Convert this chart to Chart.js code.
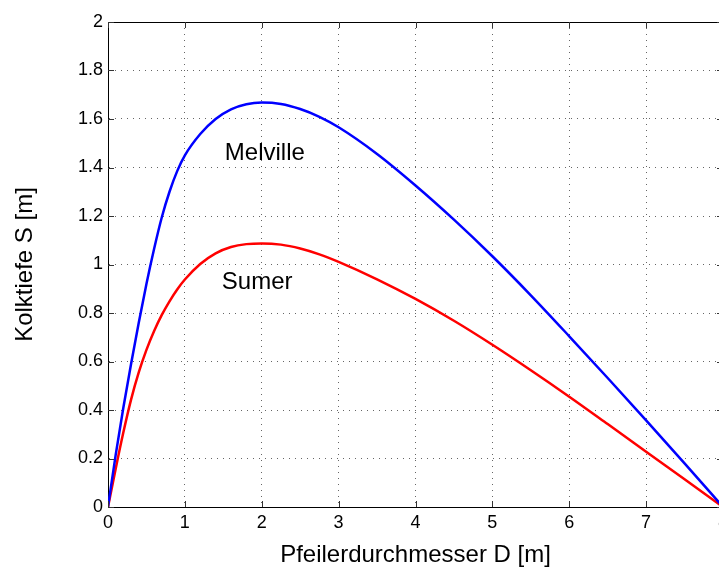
<!DOCTYPE html>
<html lang="de">
<head>
<meta charset="utf-8">
<title>Kolktiefe</title>
<script src="https://cdn.jsdelivr.net/npm/chart.js@4.4.1/dist/chart.umd.min.js"></script>
<style>
  html, body { margin: 0; padding: 0; background: #fff; overflow: hidden; }
  #wrap { width: 740px; height: 567px; }
</style>
</head>
<body>
<div id="wrap"><canvas id="scour" width="740" height="567"></canvas></div>
<script>
// pier diameter D [m] and scour depth S [m] for both formulas
const pierDiameter  = [0, 0.1, 0.2, 0.3, 0.4, 0.5, 0.6, 0.7, 0.8, 0.9, 1.0, 1.2, 1.4, 1.6, 1.8, 2.0,
                       2.25, 2.5, 2.75, 3.0, 3.5, 4.0, 4.5, 5.0, 5.5, 6.0, 6.5, 7.0, 7.5, 8.0];
const melvilleDepth = [0, 0.215, 0.41, 0.59, 0.76, 0.92, 1.065, 1.195, 1.30, 1.385, 1.45, 1.538, 1.60, 1.64, 1.661, 1.668,
                       1.662, 1.641, 1.609, 1.566, 1.456, 1.326, 1.185, 1.034, 0.873, 0.704, 0.532, 0.357, 0.180, 0];
const sumerDepth    = [0, 0.158, 0.308, 0.443, 0.555, 0.648, 0.726, 0.792, 0.848, 0.897, 0.938, 1.002, 1.046, 1.072, 1.084, 1.087,
                       1.082, 1.066, 1.042, 1.011, 0.939, 0.858, 0.768, 0.669, 0.564, 0.455, 0.342, 0.228, 0.114, 0];

const xTicks = [0, 1, 2, 3, 4, 5, 6, 7, 8];
const yTicks = [0, 0.2, 0.4, 0.6, 0.8, 1, 1.2, 1.4, 1.6, 1.8, 2];

const curveLabels = ['Melville', 'Sumer'];
const curveLabelX = [2.04, 1.94];
const curveLabelY = [1.46, 0.925];

const FONT = '"Liberation Sans", Arial, Helvetica, sans-serif';
const gridColor = 'rgba(0,0,0,0.6)';

const toPoints = ys => pierDiameter.map((d, i) => ({ x: d, y: ys[i] }));

// closed box: top/right border plus inward tick marks on every side
const boxFrame = {
  id: 'boxFrame',
  afterDatasetsDraw(chart) {
    const { ctx, chartArea: a, scales: { x, y } } = chart;
    ctx.save();
    ctx.strokeStyle = '#000';
    ctx.lineWidth = 1;
    ctx.beginPath();
    ctx.moveTo(a.left, a.top + 0.5);
    ctx.lineTo(a.right, a.top + 0.5);
    ctx.moveTo(a.right - 0.5, a.top);
    ctx.lineTo(a.right - 0.5, a.bottom);
    ctx.stroke();

    ctx.strokeStyle = '#333';
    ctx.beginPath();
    x.ticks.forEach(t => {
      const px = Math.round(x.getPixelForValue(t.value)) + 0.5;
      ctx.moveTo(px, a.bottom); ctx.lineTo(px, a.bottom - 6);
      ctx.moveTo(px, a.top);    ctx.lineTo(px, a.top + 6);
    });
    y.ticks.forEach(t => {
      const py = Math.round(y.getPixelForValue(t.value)) + 0.5;
      ctx.moveTo(a.left, py);  ctx.lineTo(a.left + 6, py);
      ctx.moveTo(a.right, py); ctx.lineTo(a.right - 6, py);
    });
    ctx.stroke();
    ctx.restore();
  }
};

// curve names written inside the plot, placed in data coordinates
const curveText = {
  id: 'curveText',
  afterDatasetsDraw(chart) {
    const { ctx, scales: { x, y } } = chart;
    ctx.save();
    ctx.fillStyle = '#000';
    ctx.font = '24px ' + FONT;
    ctx.textAlign = 'center';
    ctx.textBaseline = 'middle';
    curveLabels.forEach((txt, i) => {
      ctx.fillText(txt, x.getPixelForValue(curveLabelX[i]), y.getPixelForValue(curveLabelY[i]));
    });
    ctx.restore();
  }
};

const tickFont = { family: FONT, size: 18 };
const titleFont = { family: FONT, size: 24, lineHeight: 1 };

new Chart(document.getElementById('scour'), {
  type: 'line',
  data: {
    datasets: [
      { label: 'Melville', data: toPoints(melvilleDepth), borderColor: '#0000ff', borderWidth: 2.5,
        pointRadius: 0, cubicInterpolationMode: 'monotone', fill: false },
      { label: 'Sumer', data: toPoints(sumerDepth), borderColor: '#ff0000', borderWidth: 2.5,
        pointRadius: 0, cubicInterpolationMode: 'monotone', fill: false }
    ]
  },
  options: {
    responsive: false,
    animation: false,
    devicePixelRatio: 1,
    layout: { padding: { left: 0, top: 22, right: 17, bottom: 0 } },
    plugins: { legend: { display: false }, tooltip: { enabled: false } },
    scales: {
      x: {
        type: 'linear', min: 0, max: 8,
        afterBuildTicks: s => { s.ticks = xTicks.map(v => ({ value: v })); },
        afterFit: s => { s.height = 60; },
        grid: { color: gridColor, lineWidth: 1, drawTicks: false },
        border: { display: true, color: '#000', width: 1, dash: [1, 5] },
        ticks: { padding: 5, color: '#000', font: tickFont, maxRotation: 0, autoSkip: false,
                 callback: v => String(v) },
        title: { display: true, text: 'Pfeilerdurchmesser D [m]', color: '#000', font: titleFont,
                 padding: { top: 0, bottom: 0 } }
      },
      y: {
        type: 'linear', min: 0, max: 2,
        afterBuildTicks: s => { s.ticks = yTicks.map(v => ({ value: v })); },
        afterFit: s => { s.width = 108; },
        grid: { color: gridColor, lineWidth: 1, drawTicks: false },
        border: { display: true, color: '#000', width: 1, dash: [1, 5] },
        ticks: { padding: 5, color: '#000', font: tickFont, autoSkip: false,
                 callback: v => String(v) },
        title: { display: true, text: 'Kolktiefe S [m]', color: '#000', font: titleFont,
                 padding: { top: 13, bottom: 0 } }
      }
    }
  },
  plugins: [boxFrame, curveText]
});
</script>
</body>
</html>
